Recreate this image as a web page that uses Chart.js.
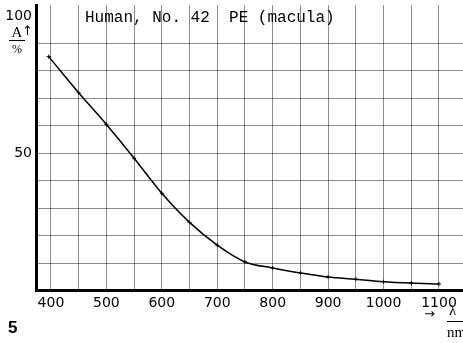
<!DOCTYPE html>
<html>
<head>
<meta charset="utf-8">
<script src="https://cdn.jsdelivr.net/npm/chart.js@4/dist/chart.umd.min.js"></script>
<style>
  html, body { margin: 0; padding: 0; background: #fff; overflow: hidden; }
  #wrap { position: relative; width: 463px; height: 343px; overflow: hidden; }
  #chart { position: absolute; left: 0; top: 0; }
  .txt { position: absolute; color: #000; white-space: nowrap; }
  #title { left: 85px; top: 9px; font: 16px "Liberation Mono", monospace; }
  #ylab { left: 9px; top: 25px; font: 15px "Liberation Serif", serif; text-align: center; width: 16px; line-height: 14px; }
  #ylab .num { border-bottom: 1px solid #000; padding-bottom: 1px; }
  #ylab .den { font-size: 12px; padding-top: 1px; }
  #yarrow { left: 22px; top: 23px; font: 13px "DejaVu Sans", sans-serif; }
  #xarrow { left: 424px; top: 306px; font: 13px "DejaVu Sans", sans-serif; }
  #xlab { left: 447px; top: 303px; font: 15px "Liberation Serif", serif; line-height: 15px; }
  #xlab .num { border-bottom: 1px solid #000; padding-bottom: 3px; padding-left: 2px; width: 30px; }
  #xlab .den { padding-top: 3px; }
  #fig { left: 8px; top: 318px; font: bold 17px "Liberation Sans", sans-serif; }
</style>
</head>
<body>
<div id="wrap">
  <canvas id="chart" width="480" height="343"></canvas>
  <div class="txt" id="title">Human, No. 42&nbsp;&nbsp;PE (macula)</div>
  <div class="txt" id="ylab"><div class="num">A</div><div class="den">%</div></div>
  <div class="txt" id="yarrow">↑</div>
  <div class="txt" id="xarrow">→</div>
  <div class="txt" id="xlab"><div class="num">λ</div><div class="den">nm</div></div>
  <div class="txt" id="fig">5</div>
</div>
<script>
// wavelength (nm) and absorbance (%)
var wavelengths = [396, 450, 500, 550, 600, 650, 700, 750, 800, 850, 900, 950, 1000, 1050, 1100];
var absorbance  = [85.2, 72, 60.5, 48.2, 35.4, 24.8, 16.5, 10.4, 8.2, 6.4, 4.9, 4.1, 3.2, 2.7, 2.4];

var xGrid = [400, 450, 500, 550, 600, 650, 700, 750, 800, 850, 900, 950, 1000, 1050, 1100];
var yGrid = [0, 10, 20, 30, 40, 50, 60, 70, 80, 90, 100];
var yLabels = [50, 100];

var points = [];
for (var i = 0; i < wavelengths.length; i++) {
  points.push({ x: wavelengths[i], y: absorbance[i] });
}

var gridColor = 'rgba(0, 0, 0, 0.45)';

var ctx = document.getElementById('chart');
var chart = new Chart(ctx, {
  type: 'line',
  data: {
    datasets: [{
      label: 'PE (macula)',
      data: points,
      borderColor: '#000',
      borderWidth: 1.5,
      cubicInterpolationMode: 'monotone',
      pointStyle: 'cross',
      pointRadius: 2,
      pointBorderWidth: 1,
      pointBorderColor: '#000'
    }]
  },
  options: {
    responsive: false,
    animation: false,
    layout: { padding: { left: 0, right: 0, top: 4, bottom: 28.5 } },
    plugins: {
      legend: { display: false },
      tooltip: { enabled: false }
    },
    scales: {
      x: {
        type: 'linear',
        min: 373,
        max: 1165,
        afterBuildTicks: function (scale) {
          scale.ticks = xGrid.map(function (v) { return { value: v }; });
        },
        afterFit: function (scale) { scale.height = 24; },
        border: { display: true, width: 3, color: '#000' },
        grid: {
          color: gridColor,
          lineWidth: 1,
          drawTicks: false
        },
        ticks: {
          autoSkip: false,
          maxRotation: 0,
          padding: 4,
          color: '#000',
          font: { family: 'DejaVu Sans', size: 14 },
          callback: function (v) { return v % 100 === 0 ? String(v) : ''; }
        }
      },
      y: {
        min: 0,
        max: 104,
        afterBuildTicks: function (scale) {
          scale.ticks = yGrid.map(function (v) { return { value: v }; });
        },
        afterFit: function (scale) {
          scale.width = 36;
          scale.paddingTop = 0;
          scale.paddingBottom = 0;
        },
        border: { display: true, width: 3, color: '#000' },
        grid: {
          color: function (c) {
            var v = c.tick ? c.tick.value : 0;
            return (v === 0 || v === 100) ? 'rgba(0,0,0,0)' : gridColor;
          },
          lineWidth: 1,
          drawTicks: false
        },
        ticks: {
          autoSkip: false,
          padding: 4,
          color: '#000',
          font: { family: 'DejaVu Sans', size: 14 },
          callback: function (v) { return yLabels.indexOf(v) >= 0 ? String(v) : ''; }
        }
      }
    }
  }
});
</script>
</body>
</html>
